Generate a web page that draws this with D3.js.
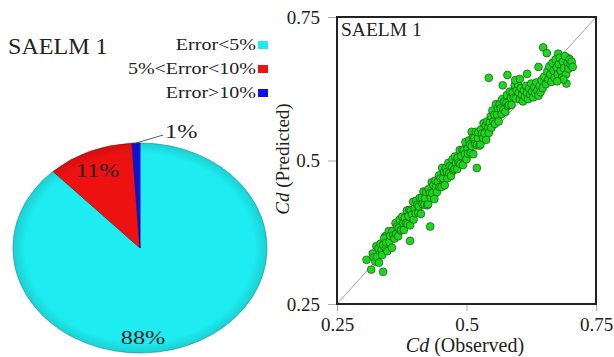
<!DOCTYPE html>
<html>
<head>
<meta charset="utf-8">
<script src="https://cdn.jsdelivr.net/npm/d3@7"></script>
<style>
  html, body { margin: 0; padding: 0; background: #fff; }
  svg { display: block; }
  text { font-family: "Liberation Serif", "Times New Roman", serif; fill: #222; }
</style>
</head>
<body>
<svg id="chart" width="614" height="357"></svg>
<script>
// ---- Pie: share of predictions by error band ----
const errorBands = ["Error<5%", "5%<Error<10%", "Error>10%"];
const errorShares = [88, 11, 1];
const errorColors = ["#1eecf0", "#ee1111", "#1010e0"];

// ---- Scatter: observed vs predicted discharge coefficient ----
const axisDomain = [0.25, 0.75];
const tickValues = [0.25, 0.5, 0.75];
const tickLabels = ["0.25", "0.5", "0.75"];
// [Cd observed, Cd predicted]
const cdPairs = [
  [0.307,0.327],[0.339,0.306],[0.343,0.368],[0.346,0.369],
  [0.316,0.310],[0.319,0.338],[0.321,0.331],[0.324,0.324],[0.326,0.351],[0.327,0.332],[0.330,0.347],
  [0.331,0.322],[0.334,0.355],[0.336,0.344],[0.337,0.335],[0.339,0.353],[0.341,0.364],[0.344,0.346],
  [0.345,0.357],[0.347,0.342],[0.350,0.377],[0.351,0.358],[0.353,0.369],[0.356,0.348],[0.357,0.377],
  [0.359,0.370],
  [0.391,0.360],[0.430,0.385],
  [0.361,0.364],[0.363,0.391],[0.364,0.372],[0.366,0.385],[0.368,0.368],[0.369,0.382],[0.371,0.397],
  [0.373,0.378],[0.374,0.379],[0.376,0.402],[0.378,0.391],[0.379,0.379],[0.381,0.400],[0.383,0.391],
  [0.385,0.413],[0.386,0.389],[0.388,0.403],[0.390,0.414],[0.391,0.387],[0.393,0.413],[0.395,0.406],
  [0.397,0.428],[0.398,0.397],[0.400,0.416],[0.402,0.408],[0.403,0.430],[0.405,0.423],[0.407,0.409],
  [0.408,0.420],[0.410,0.435],[0.412,0.407],[0.414,0.435],[0.415,0.424],[0.417,0.446],[0.419,0.423],
  [0.420,0.434],[0.422,0.445],[0.424,0.422],[0.426,0.424],[0.427,0.450],[0.429,0.443],[0.431,0.435],
  [0.433,0.462],[0.434,0.443],[0.436,0.457],[0.438,0.433],[0.440,0.465],[0.441,0.453],[0.443,0.445],
  [0.445,0.463],[0.447,0.474],[0.448,0.454],
  [0.510,0.550],[0.520,0.487],
  [0.450,0.469],[0.452,0.454],[0.453,0.487],[0.455,0.469],[0.457,0.480],[0.458,0.457],[0.460,0.487],
  [0.462,0.480],[0.463,0.469],[0.465,0.496],[0.467,0.478],[0.468,0.490],[0.470,0.473],[0.472,0.488],
  [0.473,0.502],[0.475,0.483],[0.477,0.485],[0.478,0.507],[0.480,0.496],[0.482,0.485],[0.483,0.505],
  [0.485,0.496],[0.487,0.518],[0.488,0.494],[0.490,0.508],[0.492,0.519],[0.493,0.492],[0.495,0.518],
  [0.497,0.511],[0.498,0.532],[0.500,0.502],[0.502,0.521],[0.503,0.512],[0.505,0.535],[0.507,0.528],
  [0.508,0.513],[0.510,0.525],[0.512,0.540],[0.513,0.511],[0.515,0.539],[0.517,0.529],[0.518,0.550],
  [0.520,0.527],[0.522,0.539],[0.523,0.549],[0.525,0.526],[0.527,0.528],[0.528,0.554],[0.530,0.547],
  [0.532,0.539],[0.533,0.565],[0.535,0.547],[0.537,0.561],[0.538,0.536],[0.540,0.568],[0.542,0.557],
  [0.543,0.548],[0.545,0.566],[0.547,0.577],[0.548,0.557],
  [0.550,0.587],[0.552,0.568],[0.554,0.580],[0.555,0.564],[0.557,0.598],[0.559,0.580],[0.561,0.591],
  [0.562,0.568],[0.564,0.598],[0.566,0.591],[0.568,0.581],[0.569,0.607],[0.571,0.589],[0.573,0.602],
  [0.575,0.585],[0.577,0.600],[0.578,0.614],[0.580,0.595],[0.582,0.597],[0.584,0.620],[0.586,0.609],
  [0.587,0.597],[0.589,0.618],[0.591,0.609],[0.593,0.631],[0.595,0.608],[0.597,0.622],[0.599,0.633],
  [0.543,0.644],[0.570,0.631],[0.579,0.649],[0.594,0.640],[0.603,0.642],[0.617,0.651],[0.639,0.663],
  [0.648,0.697],[0.655,0.687],[0.677,0.686],[0.697,0.678],[0.700,0.663],
  [0.601,0.618],[0.603,0.607],[0.605,0.626],[0.607,0.614],[0.609,0.603],[0.611,0.622],[0.613,0.611],
  [0.615,0.630],[0.617,0.618],[0.619,0.607],[0.621,0.626],[0.623,0.615],[0.625,0.634],[0.627,0.620],
  [0.629,0.610],[0.631,0.628],[0.633,0.617],[0.635,0.636],[0.637,0.622],[0.639,0.613],[0.641,0.630],
  [0.643,0.619],[0.645,0.640],[0.647,0.626],
  [0.650,0.646],[0.653,0.633],[0.656,0.655],[0.658,0.641],[0.660,0.664],[0.662,0.650],[0.664,0.637],
  [0.666,0.670],[0.668,0.656],[0.670,0.644],[0.672,0.676],[0.674,0.662],[0.676,0.650],[0.678,0.668],
  [0.680,0.679],[0.682,0.656],[0.684,0.644],[0.686,0.672],[0.688,0.661],[0.690,0.682],[0.692,0.650],
  [0.693,0.634],[0.695,0.670],[0.697,0.660],[0.699,0.676],[0.701,0.667],[0.703,0.672],[0.705,0.663],
  [0.687,0.641],[0.675,0.638]
];

const svg = d3.select("#chart");

// text stretched horizontally around its anchor point
function wideText(parent, x, y, str, size, sx, anchor) {
  return parent.append("text")
    .attr("transform", `translate(${x},${y}) scale(${sx},1)`)
    .attr("text-anchor", anchor || "start")
    .attr("font-size", size)
    .text(str);
}

// ================= Pie (drawn as a tilted ellipse) =================
const pieCx = 140, pieCy = 248, rx = 127, ry = 105;
const defs = svg.append("defs");
errorColors.forEach((c, i) => {
  const g = defs.append("radialGradient").attr("id", "shade" + i)
    .attr("gradientUnits", "userSpaceOnUse")
    .attr("cx", 0).attr("cy", 0).attr("r", rx);
  g.append("stop").attr("offset", "0.9").attr("stop-color", c);
  g.append("stop").attr("offset", "1").attr("stop-color", d3.color(c).darker(0.35));
});

const pie = d3.pie().sort(null).value(d => d)(errorShares);
const arc = d3.arc().innerRadius(0).outerRadius(rx);

const pieG = svg.append("g")
  .attr("transform", `translate(${pieCx},${pieCy}) scale(1,${ry / rx})`);
pieG.selectAll("path").data(pie).join("path")
  .attr("d", arc)
  .attr("fill", (d, i) => `url(#shade${i})`)
  .attr("stroke", (d, i) => d3.color(errorColors[i]).darker(1.2))
  .attr("stroke-width", 0.7)
  .attr("vector-effect", "non-scaling-stroke");

// point on the ellipse at a given pie angle and radial fraction
const onPie = (a, k) => [pieCx + Math.sin(a) * rx * k, pieCy - Math.cos(a) * ry * k];

// slice labels
const p88 = onPie(Math.PI, 0.86);
wideText(svg, p88[0] + 3, p88[1] + 6, errorShares[0] + "%", 19, 1.28, "middle");
const p11 = onPie((pie[1].startAngle + pie[1].endAngle) / 2, 0.82);
wideText(svg, p11[0] - 1, p11[1] + 8, errorShares[1] + "%", 19, 1.28, "middle");
const p1 = onPie((pie[2].startAngle + pie[2].endAngle) / 2, 1.0);
svg.append("line")
  .attr("x1", p1[0]).attr("y1", p1[1])
  .attr("x2", p1[0] + 27).attr("y2", p1[1] - 8)
  .attr("stroke", "#333").attr("stroke-width", 0.8);
wideText(svg, p1[0] + 29, p1[1] - 5, errorShares[2] + "%", 19, 1.28, "start");

// title
wideText(svg, 8, 54, "SAELM 1", 22.5, 1.07, "start");

// legend
const legend = svg.append("g");
const legendY = [46, 70, 94];
errorBands.forEach((name, i) => {
  wideText(legend, 256, legendY[i] + 4, name, 16, 1.25, "end");
  legend.append("rect").attr("x", 258).attr("y", legendY[i] - 5)
    .attr("width", 10).attr("height", 8).attr("fill", errorColors[i]);
});

// ================= Scatter =================
const m = { left: 337, right: 596, top: 17, bottom: 304 };
const x = d3.scaleLinear().domain(axisDomain).range([m.left, m.right]);
const y = d3.scaleLinear().domain(axisDomain).range([m.bottom, m.top]);

const xAxis = d3.axisBottom(x).tickValues(tickValues)
  .tickFormat((d, i) => tickLabels[i]).tickSize(7).tickPadding(7);
const yAxis = d3.axisLeft(y).tickValues(tickValues)
  .tickFormat((d, i) => tickLabels[i]).tickSize(9).tickPadding(8);

const gx = svg.append("g").attr("transform", `translate(0,${m.bottom})`).call(xAxis);
const gy = svg.append("g").attr("transform", `translate(${m.left},0)`).call(yAxis);
[gx, gy].forEach(g => {
  g.select(".domain").remove();
  g.selectAll(".tick line").attr("stroke", "#aaa");
  g.selectAll(".tick text").attr("font-size", 19)
    .attr("font-family", "Liberation Serif, serif").attr("fill", "#333");
});
gy.selectAll(".tick text").attr("dy", "0.33em");

// 1:1 reference line
svg.append("line")
  .attr("x1", x(axisDomain[0])).attr("y1", y(axisDomain[0]))
  .attr("x2", x(axisDomain[1])).attr("y2", y(axisDomain[1]))
  .attr("stroke", "#999").attr("stroke-width", 0.9);

// points
svg.append("g").selectAll("circle").data(cdPairs).join("circle")
  .attr("cx", d => x(d[0])).attr("cy", d => y(d[1])).attr("r", 3.9)
  .attr("fill", "#22d422").attr("stroke", "#0e5a0e").attr("stroke-width", 0.7);

// frame
svg.append("rect")
  .attr("x", m.left).attr("y", m.top)
  .attr("width", m.right - m.left).attr("height", m.bottom - m.top)
  .attr("fill", "none").attr("stroke", "#222").attr("stroke-width", 2);

// inner title
svg.append("text").attr("x", 341).attr("y", 36).attr("font-size", 19.5).text("SAELM 1");

// axis titles
const xTitle = svg.append("text").attr("x", 465).attr("y", 352)
  .attr("text-anchor", "middle").attr("font-size", 20);
xTitle.append("tspan").attr("font-style", "italic").text("Cd");
xTitle.append("tspan").text(" (Observed)");

const yTitle = svg.append("text")
  .attr("transform", "translate(289,159) rotate(-90)")
  .attr("text-anchor", "middle").attr("font-size", 19);
yTitle.append("tspan").attr("font-style", "italic").text("Cd");
yTitle.append("tspan").text(" (Predicted)");
</script>
</body>
</html>
